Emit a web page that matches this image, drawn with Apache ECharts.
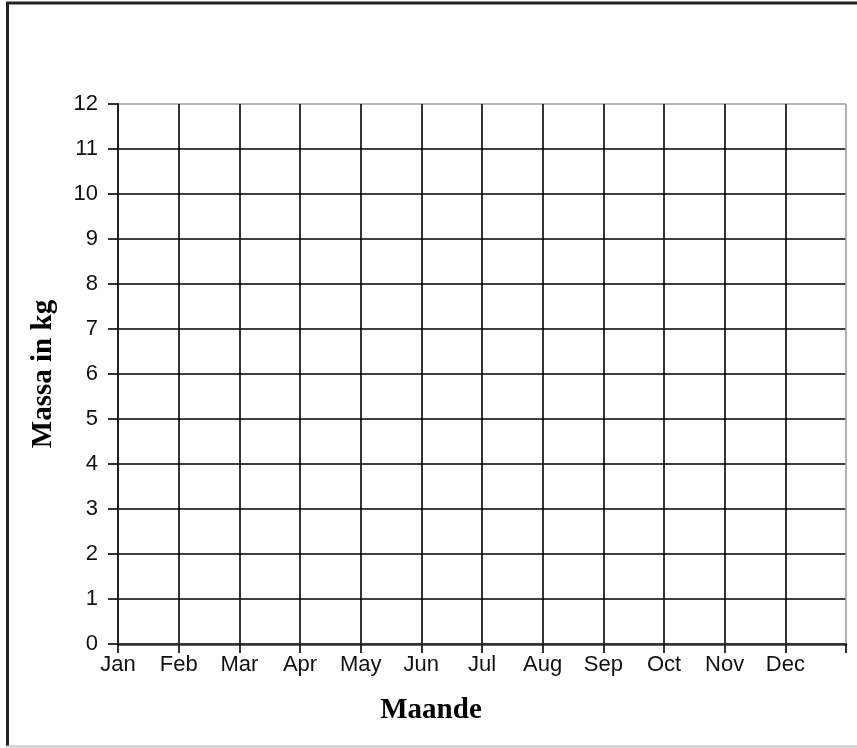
<!DOCTYPE html>
<html>
<head>
<meta charset="utf-8">
<script src="https://cdn.jsdelivr.net/npm/echarts@6/dist/echarts.min.js"></script>
<style>
  html, body { margin: 0; padding: 0; background: #fff; }
  #massa { width: 857px; height: 748px; }
</style>
</head>
<body>
<div id="massa"></div>
<script>
// month labels sit on the vertical grid lines, 0..11 ; the 12th line has none
var months = ['Jan', 'Feb', 'Mar', 'Apr', 'May', 'Jun', 'Jul', 'Aug', 'Sep', 'Oct', 'Nov', 'Dec'];
var yTicks = [0, 1, 2, 3, 4, 5, 6, 7, 8, 9, 10, 11, 12];
// the worksheet is empty: no values plotted yet
var massa = [];

var xLines = [];
for (var i = 0; i <= months.length; i++) xLines.push(i === months.length ? '#a0a0a0' : '#000');
var yLines = [];
for (var j = 0; j < yTicks.length; j++) yLines.push(j === yTicks.length - 1 ? '#a0a0a0' : '#000');

var chart = echarts.init(document.getElementById('massa'));
var option = {
  backgroundColor: '#fff',
  animation: false,
  grid: { left: 118, top: 104, width: 728, height: 540 },
  graphic: [
    { type: 'line', shape: { x1: 6, y1: 3, x2: 857, y2: 3 }, style: { stroke: '#222', lineWidth: 3 } },
    { type: 'line', shape: { x1: 7.5, y1: 2, x2: 7.5, y2: 747 }, style: { stroke: '#222', lineWidth: 3 } },
    { type: 'line', shape: { x1: 6, y1: 746.5, x2: 857, y2: 746.5 }, style: { stroke: '#c8c8c8', lineWidth: 2 } }
  ],
  xAxis: {
    type: 'value',
    min: 0,
    max: months.length,
    interval: 1,
    name: 'Maande',
    nameLocation: 'middle',
    nameGap: 52,
    nameTextStyle: {
      fontFamily: 'Liberation Serif', fontWeight: 'bold', fontSize: 29, color: '#000',
      padding: [0, 102, 0, 0]
    },
    axisLine: { show: true, lineStyle: { color: '#333', width: 2.5 } },
    axisTick: { show: true, length: 9, lineStyle: { color: '#000', width: 1.6 } },
    axisLabel: {
      margin: 10,
      fontFamily: 'Liberation Sans', fontSize: 22, color: '#111',
      formatter: function (v) { return months[v] || ''; }
    },
    splitLine: { show: true, lineStyle: { color: xLines, width: 1.6 } }
  },
  yAxis: {
    type: 'value',
    min: 0,
    max: yTicks[yTicks.length - 1],
    interval: 1,
    name: 'Massa in kg',
    nameLocation: 'middle',
    nameRotate: 90,
    nameGap: 60,
    nameTextStyle: { fontFamily: 'Liberation Serif', fontWeight: 'bold', fontSize: 29, color: '#000' },
    axisLine: { show: true, lineStyle: { color: '#222', width: 2 } },
    axisTick: { show: true, length: 10, lineStyle: { color: '#000', width: 1.6 } },
    axisLabel: { margin: 20, fontFamily: 'Liberation Sans', fontSize: 22, color: '#111' },
    splitLine: { show: true, lineStyle: { color: yLines, width: 1.6 } }
  },
  series: [{
    name: 'Massa',
    type: 'line',
    data: massa,
    symbol: 'none'
  }]
};
chart.setOption(option);
</script>
</body>
</html>
